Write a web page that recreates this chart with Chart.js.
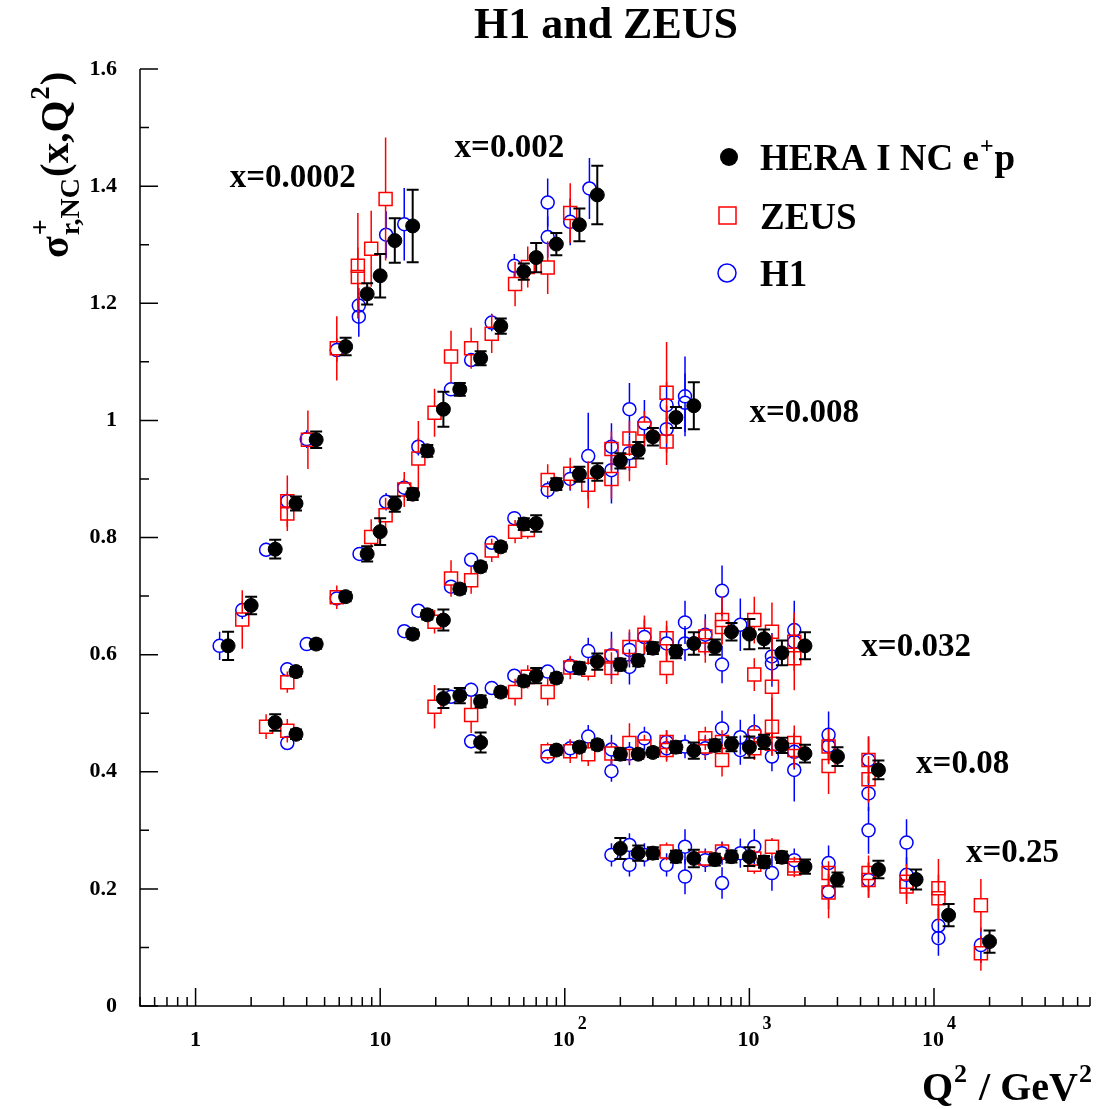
<!DOCTYPE html>
<html>
<head>
<meta charset="utf-8">
<script src="https://cdn.jsdelivr.net/npm/chart.js@4.4.1/dist/chart.umd.min.js"></script>
<style>
  body { margin: 0; background: #fff; }
  #wrap { width: 1096px; height: 1109px; }
</style>
</head>
<body>
<div id="wrap"><canvas id="chart" width="1096" height="1109"></canvas></div>
<script>
// [Q2, sigma_r, error]
const heraX0002 = [[1.5,0.615,0.024],[2.0,0.684,0.015],[2.7,0.780,0.016],[3.5,0.858,0.012],[4.5,0.967,0.014],
  [6.5,1.126,0.015],[8.5,1.216,0.018],[10,1.247,0.037],[12,1.307,0.038],[15,1.332,0.062]];
const heraX002 = [[2.7,0.484,0.014],[3.5,0.464,0.008],[3.5,0.571,0.008],[4.5,0.618,0.008],[6.5,0.699,0.008],
  [8.5,0.772,0.013],[10,0.810,0.023],[12,0.857,0.013],[15,0.874,0.010],[18,0.948,0.010],[22,1.019,0.030],
  [27,1.053,0.011],[35,1.106,0.012],[45,1.161,0.013],[60,1.254,0.014],[70,1.278,0.025],[90,1.301,0.019],
  [120,1.334,0.028],[150,1.385,0.050]];
const heraX008 = [[15,0.635,0.008],[18,0.668,0.008],[22,0.659,0.018],[27,0.712,0.008],[35,0.750,0.008],
  [45,0.784,0.008],[60,0.823,0.010],[70,0.824,0.014],[90,0.891,0.010],[120,0.908,0.013],[150,0.912,0.015],
  [200,0.931,0.013],[250,0.949,0.014],[300,0.972,0.015],[400,1.005,0.018],[500,1.025,0.040]];
const heraX032 = [[22,0.525,0.016],[27,0.530,0.013],[35,0.520,0.010],[35,0.450,0.017],[45,0.536,0.008],
  [60,0.555,0.008],[70,0.564,0.013],[90,0.560,0.008],[120,0.577,0.010],[150,0.588,0.014],[200,0.583,0.010],
  [250,0.590,0.010],[300,0.611,0.010],[400,0.605,0.011],[500,0.619,0.019],[650,0.613,0.013],[800,0.639,0.015],
  [1000,0.635,0.026],[1200,0.627,0.016],[1500,0.603,0.021],[2000,0.615,0.023]];
const heraX08 = [[90,0.437,0.008],[120,0.442,0.008],[150,0.446,0.008],[200,0.430,0.010],[250,0.430,0.008],
  [300,0.433,0.008],[400,0.442,0.010],[500,0.436,0.014],[650,0.445,0.010],[800,0.447,0.012],[1000,0.442,0.018],
  [1200,0.451,0.012],[1500,0.445,0.013],[2000,0.431,0.015],[3000,0.426,0.016],[5000,0.403,0.016]];
const heraX25 = [[200,0.269,0.018],[250,0.261,0.013],[300,0.261,0.010],[400,0.255,0.010],[500,0.252,0.015],
  [650,0.250,0.010],[800,0.255,0.010],[1000,0.255,0.016],[1200,0.246,0.010],[1500,0.254,0.010],[2000,0.238,0.012],
  [3000,0.216,0.012],[5000,0.233,0.015],[8000,0.216,0.017],[12000,0.155,0.019],[20000,0.110,0.019]];

const zeusPoints = [[1.79,0.660,0.050],[2.41,0.477,0.021],[3.14,0.862,0.044],[3.14,0.841,0.030],[3.14,0.553,0.018],
  [3.14,0.470,0.020],[4.06,0.967,0.050],[5.82,1.123,0.055],[5.82,0.698,0.020],[7.57,1.264,0.090],[7.57,1.245,0.050],
  [8.94,1.293,0.065],[8.94,0.801,0.030],[10.7,1.378,0.105],[10.7,0.838,0.030],[13.5,0.882,0.030],[16.1,0.935,0.064],
  [19.7,1.013,0.041],[19.7,0.656,0.020],[19.7,0.511,0.037],[24.2,1.109,0.044],[24.2,0.730,0.031],
  [31.1,1.123,0.035],[31.1,0.727,0.023],[31.1,0.497,0.031],[40.2,1.148,0.033],[40.2,0.778,0.020],
  [53.8,1.233,0.038],[53.8,0.810,0.020],[53.8,0.536,0.023],[63,1.262,0.035],[63,0.813,0.015],[63,0.562,0.020],
  [80.8,1.261,0.045],[80.8,0.898,0.027],[80.8,0.536,0.023],[80.8,0.435,0.015],
  [107,1.354,0.051],[107,0.909,0.027],[107,0.578,0.020],[107,0.435,0.020],
  [134,0.890,0.040],[134,0.574,0.018],[134,0.430,0.020],
  [179,0.951,0.030],[179,0.900,0.034],[179,0.597,0.030],[179,0.577,0.027],[179,0.431,0.020],
  [224,0.969,0.030],[224,0.931,0.035],[224,0.613,0.030],[224,0.449,0.034],
  [270,0.986,0.030],[270,0.634,0.033],[270,0.443,0.020],
  [356,1.047,0.087],[356,0.964,0.040],[356,0.628,0.030],[356,0.577,0.027],[356,0.451,0.020],[356,0.437,0.020],[356,0.264,0.015],
  [577,0.631,0.030],[577,0.616,0.030],[577,0.457,0.020],[577,0.443,0.020],[577,0.252,0.015],
  [711,0.659,0.040],[711,0.647,0.030],[711,0.451,0.020],[711,0.420,0.028],[711,0.264,0.015],
  [1063,0.659,0.040],[1063,0.566,0.028],[1063,0.460,0.020],[1063,0.440,0.020],[1063,0.252,0.015],[1063,0.241,0.015],
  [1325,0.639,0.050],[1325,0.545,0.090],[1325,0.477,0.050],[1325,0.448,0.020],[1325,0.272,0.015],
  [1750,0.622,0.050],[1750,0.594,0.055],[1750,0.449,0.030],[1750,0.437,0.030],[1750,0.240,0.015],[1750,0.235,0.015],
  [2685,0.443,0.030],[2685,0.410,0.048],[2685,0.227,0.020],[2685,0.194,0.044],
  [4420,0.420,0.040],[4420,0.387,0.040],[4420,0.227,0.030],[4420,0.215,0.030],
  [7100,0.212,0.030],[7100,0.204,0.030],[10570,0.201,0.050],[10570,0.184,0.040],
  [17950,0.172,0.045],[17950,0.090,0.030]];

const h1Points = [[1.35,0.615,0.024],[1.79,0.676,0.015],[2.41,0.779,0.012],[3.14,0.862,0.015],[3.14,0.575,0.012],
  [3.14,0.449,0.012],[4.0,0.968,0.015],[4.0,0.618,0.010],[5.82,1.120,0.020],[5.82,0.696,0.010],[7.66,1.196,0.030],
  [7.66,1.177,0.034],[7.73,0.772,0.010],[10.77,1.317,0.040],[10.77,0.861,0.015],[13.5,1.335,0.062],[13.5,0.885,0.015],
  [13.5,0.640,0.010],[16.1,0.955,0.015],[16.1,0.675,0.010],[24.2,1.053,0.010],[24.2,0.716,0.010],[24.2,0.528,0.010],
  [31.1,1.103,0.010],[31.1,0.762,0.010],[31.1,0.540,0.012],[31.1,0.452,0.012],[40.2,1.167,0.015],[40.2,0.791,0.010],
  [40.2,0.543,0.010],[53.3,1.264,0.020],[53.3,0.833,0.010],[53.3,0.564,0.010],
  [80.8,1.372,0.041],[80.8,1.313,0.035],[80.8,0.881,0.015],[80.8,0.571,0.010],[80.8,0.426,0.010],
  [107,1.339,0.040],[107,0.900,0.020],[107,0.581,0.015],[107,0.440,0.015],
  [136,1.396,0.052],[134,0.939,0.074],[134,0.606,0.023],[134,0.460,0.020],
  [179,0.955,0.040],[179,0.915,0.057],[179,0.599,0.040],[179,0.438,0.025],[179,0.401,0.018],[179,0.258,0.020],
  [224,1.019,0.045],[224,0.944,0.030],[224,0.608,0.030],[224,0.579,0.030],[224,0.431,0.020],[224,0.275,0.020],[224,0.241,0.020],
  [270,0.995,0.040],[270,0.630,0.030],[270,0.457,0.020],[270,0.258,0.020],
  [356,1.026,0.040],[356,0.985,0.040],[356,0.619,0.030],[356,0.451,0.020],[356,0.440,0.020],[356,0.241,0.020],
  [448,1.041,0.068],[448,1.030,0.050],[448,0.655,0.037],[448,0.619,0.030],[448,0.443,0.020],[448,0.272,0.030],[448,0.221,0.030],
  [577,0.634,0.035],[577,0.440,0.020],[577,0.249,0.020],
  [711,0.709,0.043],[711,0.583,0.032],[711,0.474,0.030],[711,0.261,0.020],[711,0.210,0.027],
  [893,0.651,0.045],[893,0.459,0.030],[893,0.437,0.025],[893,0.261,0.025],
  [1063,0.468,0.030],[1063,0.272,0.030],
  [1325,0.597,0.040],[1325,0.585,0.040],[1325,0.426,0.025],[1325,0.227,0.030],
  [1750,0.642,0.050],[1750,0.622,0.040],[1750,0.434,0.030],[1750,0.403,0.054],[1750,0.249,0.020],
  [2685,0.463,0.040],[2685,0.444,0.030],[2685,0.244,0.030],[2685,0.195,0.030],
  [4420,0.420,0.040],[4420,0.363,0.030],[4420,0.300,0.040],[4420,0.215,0.030],
  [7100,0.279,0.040],[7100,0.224,0.030],[10570,0.137,0.030],[10570,0.116,0.030],[17950,0.104,0.030]];

// text anchors in data units (left edge, baseline)
const binLabels = [
  { text: 'x=0.0002', q2: 1.53, s: 1.399 },
  { text: 'x=0.002', q2: 25.3, s: 1.450 },
  { text: 'x=0.008', q2: 1000, s: 0.997 },
  { text: 'x=0.032', q2: 4040, s: 0.598 },
  { text: 'x=0.08', q2: 8000, s: 0.398 },
  { text: 'x=0.25', q2: 14900, s: 0.246 }
];

const serif = '"Liberation Serif", "Times New Roman", serif';

function toPoints(rows) {
  return rows.map(r => ({ x: r[0], y: r[1], err: r[2] }));
}

const heraAll = [].concat(heraX0002, heraX002, heraX008, heraX032, heraX08, heraX25);

// draw text pieces in a row, each with its own size and vertical shift
function drawParts(ctx, parts, x, y) {
  let cx = x;
  parts.forEach(p => {
    ctx.font = 'bold ' + p.size + 'px ' + serif;
    ctx.fillText(p.t, cx, y + (p.dy || 0));
    cx += ctx.measureText(p.t).width + (p.gap || 0);
  });
  return cx;
}

const errorBars = {
  id: 'errorBars',
  beforeDatasetDraw(chart, args) {
    const ds = chart.data.datasets[args.index];
    const meta = args.meta;
    const yScale = chart.scales.y;
    const ctx = chart.ctx;
    ctx.save();
    ctx.strokeStyle = ds.borderColor;
    ctx.lineWidth = ds.errWidth;
    meta.data.forEach((el, i) => {
      const d = ds.data[i];
      const yt = yScale.getPixelForValue(d.y + d.err);
      const yb = yScale.getPixelForValue(d.y - d.err);
      const gap = ds.errGap;
      ctx.beginPath();
      if (yt < el.y - gap) { ctx.moveTo(el.x, yt); ctx.lineTo(el.x, el.y - gap); }
      if (yb > el.y + gap) { ctx.moveTo(el.x, el.y + gap); ctx.lineTo(el.x, yb); }
      if (ds.errCap) {
        ctx.moveTo(el.x - ds.errCap, yt); ctx.lineTo(el.x + ds.errCap, yt);
        ctx.moveTo(el.x - ds.errCap, yb); ctx.lineTo(el.x + ds.errCap, yb);
      }
      ctx.stroke();
    });
    ctx.restore();
  }
};

const decorations = {
  id: 'decorations',
  afterDraw(chart) {
    const ctx = chart.ctx;
    const xs = chart.scales.x, ys = chart.scales.y;
    const area = chart.chartArea;
    ctx.save();
    ctx.strokeStyle = '#000';
    ctx.fillStyle = '#000';
    ctx.lineWidth = 1.5;

    // axes
    ctx.beginPath();
    ctx.moveTo(area.left, area.top); ctx.lineTo(area.left, area.bottom); ctx.lineTo(area.right, area.bottom);
    ctx.stroke();

    // y ticks (inside)
    ctx.beginPath();
    for (let v = 0; v <= 1.6001; v += 0.2) {
      const py = ys.getPixelForValue(v);
      ctx.moveTo(area.left, py); ctx.lineTo(area.left + 18, py);
    }
    for (let v = 0.1; v < 1.6; v += 0.2) {
      const py = ys.getPixelForValue(v);
      ctx.moveTo(area.left, py); ctx.lineTo(area.left + 9, py);
    }
    // x ticks (inside, log)
    for (let e = -1; e <= 4; e++) {
      for (let m = 1; m <= 9; m++) {
        const v = m * Math.pow(10, e);
        if (v < xs.min || v > xs.max) continue;
        const px = xs.getPixelForValue(v);
        ctx.moveTo(px, area.bottom); ctx.lineTo(px, area.bottom - (m === 1 ? 18 : 9));
      }
    }
    ctx.stroke();

    // x tick labels
    ctx.textBaseline = 'alphabetic';
    ctx.textAlign = 'center';
    ctx.font = 'bold 22px ' + serif;
    ctx.fillText('1', xs.getPixelForValue(1), 1046);
    ctx.fillText('10', xs.getPixelForValue(10), 1046);
    ctx.textAlign = 'left';
    [2, 3, 4].forEach(e => {
      const px = xs.getPixelForValue(Math.pow(10, e));
      drawParts(ctx, [{ t: '10', size: 22, gap: 3 }, { t: String(e), size: 18, dy: -17 }], px - 12, 1046);
    });

    // axis titles
    drawParts(ctx, [{ t: 'Q', size: 40, gap: 1 }, { t: '2', size: 26, dy: -18, gap: 2 },
      { t: ' / GeV', size: 40, gap: 1 }, { t: '2', size: 26, dy: -18 }], 922, 1100);

    ctx.save();
    ctx.translate(68, 258);
    ctx.rotate(-Math.PI / 2);
    let cx = drawParts(ctx, [{ t: 'σ', size: 40, gap: 1 }], 0, 0);
    ctx.font = 'bold 28px ' + serif;
    ctx.fillText('+', cx, -19);
    ctx.fillText('r,NC', cx, 11);
    cx += ctx.measureText('r,NC').width + 1;
    drawParts(ctx, [{ t: '(x,Q', size: 41, gap: 1 }, { t: '2', size: 27, dy: -19, gap: 1 }, { t: ')', size: 41 }], cx, 0);
    ctx.restore();

    // title
    ctx.textAlign = 'center';
    ctx.font = 'bold 44px ' + serif;
    ctx.fillText('H1 and ZEUS', 606, 38);

    // x bin labels
    ctx.textAlign = 'left';
    ctx.font = 'bold 33px ' + serif;
    binLabels.forEach(b => ctx.fillText(b.text, xs.getPixelForValue(b.q2), ys.getPixelForValue(b.s)));

    // legend
    ctx.beginPath();
    ctx.arc(729, 157, 9, 0, Math.PI * 2);
    ctx.fill();
    ctx.lineWidth = 1.5;
    ctx.strokeStyle = '#ff0000';
    ctx.strokeRect(719, 207, 17, 17);
    ctx.strokeStyle = '#0000ff';
    ctx.beginPath();
    ctx.arc(727, 273, 9, 0, Math.PI * 2);
    ctx.stroke();
    drawParts(ctx, [{ t: 'HERA I NC e', size: 37, gap: 1 }, { t: '+', size: 24, dy: -17, gap: 1 }, { t: 'p', size: 37 }], 760, 170);
    drawParts(ctx, [{ t: 'ZEUS', size: 37 }], 760, 229);
    drawParts(ctx, [{ t: 'H1', size: 37 }], 760, 286);
    ctx.restore();
  }
};

new Chart(document.getElementById('chart').getContext('2d'), {
  type: 'scatter',
  data: {
    datasets: [
      {
        label: 'HERA I NC e+p',
        data: toPoints(heraAll),
        pointStyle: 'circle', pointRadius: 7,
        backgroundColor: '#000', borderColor: '#000', borderWidth: 1,
        errWidth: 2, errGap: 0, errCap: 6
      },
      {
        label: 'ZEUS',
        data: toPoints(zeusPoints),
        pointStyle: 'rect', pointRadius: 9.2,
        backgroundColor: 'rgba(0,0,0,0)', borderColor: '#ff0000', borderWidth: 1.5,
        errWidth: 1.5, errGap: 6.5, errCap: 0
      },
      {
        label: 'H1',
        data: toPoints(h1Points),
        pointStyle: 'circle', pointRadius: 6.5,
        backgroundColor: 'rgba(0,0,0,0)', borderColor: '#0000ff', borderWidth: 1.5,
        errWidth: 1.5, errGap: 6.5, errCap: 0
      }
    ]
  },
  options: {
    responsive: false,
    animation: false,
    events: [],
    layout: { autoPadding: false, padding: { top: 69, right: 6, bottom: 103, left: 0 } },
    plugins: { legend: { display: false }, title: { display: false }, tooltip: { enabled: false } },
    scales: {
      x: { type: 'logarithmic', min: 0.5, max: 70000, display: false },
      y: {
        type: 'linear', min: 0, max: 1.6,
        grid: { display: false, drawTicks: false },
        border: { display: false },
        afterFit(scale) { scale.width = 140; },
        ticks: {
          stepSize: 0.2, padding: 23, color: '#000',
          font: { family: serif, size: 22, weight: 'bold' },
          callback: v => String(Number(v.toFixed(1)))
        }
      }
    }
  },
  plugins: [errorBars, decorations]
});
</script>
</body>
</html>
